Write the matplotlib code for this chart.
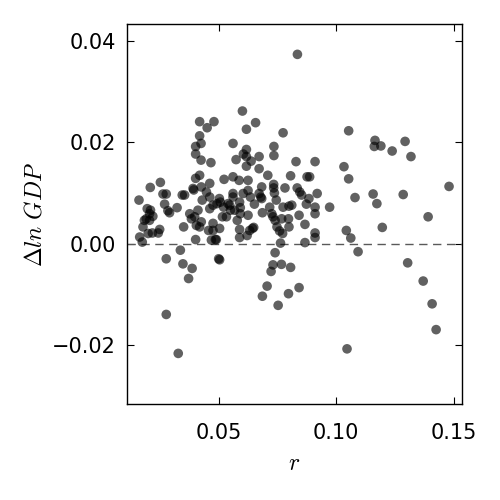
import matplotlib
matplotlib.use("Agg")
import matplotlib.pyplot as plt

plt.rcParams["mathtext.fontset"] = "cm"

r = [0.0835, 0.0601, 0.0419, 0.0480, 0.0451, 0.0657, 0.0618, 0.0774, 0.0419, 0.0425,
     0.0402, 0.0561, 0.0735, 0.0402, 0.0618, 0.0605, 0.0672, 0.0735, 0.0574, 0.0618,
     0.0425, 0.0467, 0.0638, 0.0618, 0.0829, 0.0910, 0.0672, 0.1033, 0.1053, 0.1165,
     0.1162, 0.1190, 0.1238, 0.1293, 0.1318, 0.1480, 0.1053, 0.1080, 0.1157, 0.1173,
     0.1285, 0.1391, 0.1196, 0.1043, 0.1062, 0.1093, 0.1304, 0.1370, 0.1408, 0.1425,
     0.1046, 0.0972, 0.0919, 0.0910, 0.0910, 0.0910, 0.0910, 0.0887, 0.0876, 0.0806,
     0.0834, 0.0845, 0.0853, 0.0884, 0.0873, 0.0842, 0.0867, 0.0867, 0.0782, 0.0811,
     0.0799, 0.0774, 0.0797, 0.0768, 0.0799, 0.0772, 0.0745, 0.0734, 0.0734, 0.0737,
     0.0709, 0.0683, 0.0679, 0.0683, 0.0672, 0.0652, 0.0635, 0.0625, 0.0604, 0.0625,
     0.0587, 0.0561, 0.0523, 0.0561, 0.0561, 0.0589, 0.0592, 0.0592, 0.0568, 0.0540,
     0.0550, 0.0521, 0.0507, 0.0503, 0.0493, 0.0476, 0.0462, 0.0462, 0.0462, 0.0426,
     0.0419, 0.0402, 0.0391, 0.0394, 0.0355, 0.0345, 0.0263, 0.0277, 0.0252, 0.0209,
     0.0161, 0.0196, 0.0210, 0.0206, 0.0220, 0.0192, 0.0206, 0.0184, 0.0178, 0.0200,
     0.0218, 0.0249, 0.0243, 0.0164, 0.0175, 0.0270, 0.0284, 0.0291, 0.0323, 0.0351,
     0.0377, 0.0384, 0.0398, 0.0405, 0.0419, 0.0426, 0.0402, 0.0412, 0.0430, 0.0448,
     0.0457, 0.0476, 0.0476, 0.0469, 0.0486, 0.0490, 0.0504, 0.0500, 0.0504, 0.0516,
     0.0533, 0.0547, 0.0579, 0.0589, 0.0589, 0.0621, 0.0625, 0.0632, 0.0649, 0.0644,
     0.0686, 0.0717, 0.0726, 0.0731, 0.0740, 0.0748, 0.0759, 0.0763, 0.0740, 0.0731,
     0.0723, 0.0767, 0.0806, 0.0706, 0.0686, 0.0753, 0.0797, 0.0842, 0.0277, 0.0337,
     0.0348, 0.0387, 0.0372, 0.0277, 0.0328]

dln_gdp = [0.0374, 0.0262, 0.0241, 0.0241, 0.0229, 0.0239, 0.0226, 0.0219, 0.0213, 0.0198,
           0.0192, 0.0198, 0.0192, 0.0177, 0.0186, 0.0177, 0.0172, 0.0174, 0.0166, 0.0172,
           0.0165, 0.0160, 0.0163, 0.0153, 0.0162, 0.0162, 0.0148, 0.0152, 0.0223, 0.0204,
           0.0192, 0.0193, 0.0183, 0.0202, 0.0172, 0.0113, 0.0128, 0.0091, 0.0098, 0.0079,
           0.0097, 0.0053, 0.0032, 0.0026, 0.0011, -0.0016, -0.0038, -0.0074, -0.0119, -0.0170,
           -0.0208, 0.0072, 0.0099, 0.0072, 0.0059, 0.0021, 0.0012, 0.0132, 0.0132, 0.0134,
           0.0110, 0.0102, 0.0096, 0.0089, 0.0078, 0.0056, 0.0038, 0.0002, 0.0110, 0.0076,
           0.0074, 0.0072, 0.0049, 0.0049, 0.0033, 0.0020, 0.0086, 0.0117, 0.0110, 0.0100,
           0.0135, 0.0112, 0.0092, 0.0089, 0.0099, 0.0078, 0.0092, 0.0105, 0.0099, 0.0125,
           0.0125, 0.0132, 0.0127, 0.0099, 0.0092, 0.0082, 0.0071, 0.0059, 0.0066, 0.0079,
           0.0066, 0.0072, 0.0082, 0.0089, 0.0079, 0.0076, 0.0069, 0.0092, 0.0119, 0.0112,
           0.0135, 0.0129, 0.0109, 0.0106, 0.0096, 0.0096, 0.0098, 0.0098, 0.0121, 0.0111,
           0.0086, 0.0069, 0.0066, 0.0059, 0.0054, 0.0049, 0.0046, 0.0046, 0.0033, 0.0020,
           0.0021, 0.0028, 0.0021, 0.0013, 0.0003, 0.0078, 0.0065, 0.0061, 0.0071, 0.0033,
           0.0059, 0.0049, 0.0053, 0.0036, 0.0033, 0.0043, 0.0008, 0.0066, 0.0086, 0.0102,
           0.0026, 0.0040, 0.0026, 0.0007, 0.0008, 0.0008, 0.0030, -0.0030, -0.0032, 0.0053,
           0.0053, 0.0076, 0.0046, 0.0028, 0.0012, 0.0016, 0.0056, 0.0026, 0.0032, 0.0030,
           0.0061, 0.0072, 0.0059, 0.0053, 0.0046, 0.0033, 0.0025, 0.0001, -0.0018, -0.0042,
           -0.0055, -0.0041, -0.0047, -0.0084, -0.0104, -0.0122, -0.0099, -0.0087, -0.0030, -0.0013,
           -0.0040, -0.0049, -0.0069, -0.0140, -0.0217]

fig = plt.figure(figsize=(5, 5), dpi=100, facecolor="white")
ax = fig.add_axes([0.254, 0.193, 0.669, 0.759])
ax.scatter(r, dln_gdp, s=48, color="k", alpha=0.62, edgecolors="none", zorder=3)
ax.axhline(0, color="0.35", lw=1.0, linestyle=(0, (6, 4)), zorder=2)

ax.set_xlim(0.011, 0.1533)
ax.set_ylim(-0.0316, 0.0434)
ax.set_xticks([0.05, 0.10, 0.15])
ax.set_yticks([-0.02, 0.00, 0.02, 0.04])
ax.set_xticklabels(["0.05", "0.10", "0.15"])
ax.set_yticklabels(["\u22120.02", "0.00", "0.02", "0.04"])
ax.tick_params(direction="in", top=True, right=True, length=5, width=0.8,
               labelsize=15)
ax.tick_params(axis="x", pad=14)
ax.tick_params(axis="y", pad=8)
for sp in ax.spines.values():
    sp.set_linewidth(1.0)

ax.set_xlabel(r"$r$", fontsize=17, labelpad=6)
ax.set_ylabel(r"$\Delta ln\ GDP$", fontsize=17, labelpad=4)

fig.savefig("out.png", dpi=100, facecolor="white")
